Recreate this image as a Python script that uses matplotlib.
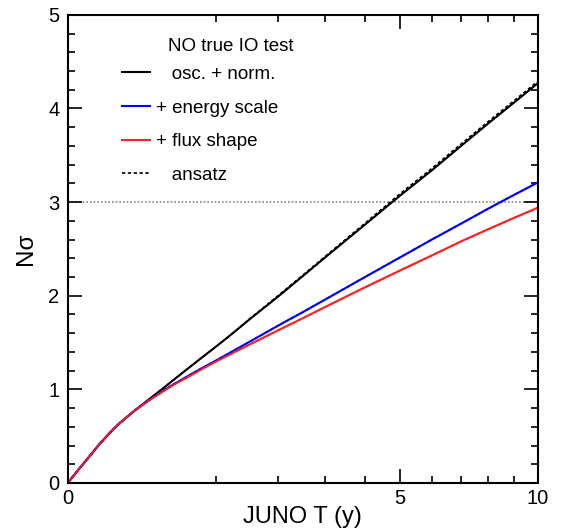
import numpy as np
import matplotlib.pyplot as plt
from matplotlib.lines import Line2D

# exposure time (years) and sensitivity curves
T = [0, 0.005, 0.01, 0.02, 0.04, 0.06, 0.075, 0.1, 0.125, 0.15, 0.2, 0.3, 0.4, 0.5,
     0.65, 0.8, 1, 1.25, 1.5, 2, 2.5, 3, 4, 5, 6, 7, 8, 9, 10]
osc_norm = [0, 0.14, 0.196, 0.276, 0.39, 0.47, 0.52, 0.59, 0.645, 0.69, 0.77, 0.895, 1.00, 1.095,
            1.22, 1.33, 1.46, 1.61, 1.75, 1.99, 2.21, 2.41, 2.76, 3.07, 3.34, 3.60, 3.84, 4.06, 4.27]
energy_scale = [0, 0.14, 0.196, 0.276, 0.39, 0.47, 0.52, 0.59, 0.645, 0.69, 0.77, 0.885, 0.975, 1.05,
                1.14, 1.22, 1.31, 1.415, 1.51, 1.68, 1.825, 1.96, 2.20, 2.41, 2.60, 2.77, 2.93, 3.075, 3.21]
flux_shape = [0, 0.14, 0.196, 0.276, 0.39, 0.47, 0.52, 0.59, 0.645, 0.69, 0.77, 0.885, 0.97, 1.045,
              1.13, 1.21, 1.30, 1.395, 1.48, 1.63, 1.76, 1.88, 2.09, 2.27, 2.43, 2.58, 2.71, 2.83, 2.94]

# ansatz approximations
ansatz_osc = [0, 0.14, 0.196, 0.276, 0.39, 0.47, 0.52, 0.59, 0.645, 0.69, 0.77, 0.895, 1.00, 1.095,
              1.22, 1.33, 1.46, 1.61, 1.755, 2.00, 2.22, 2.42, 2.775, 3.09, 3.36, 3.62, 3.86, 4.08, 4.29]
ansatz_energy = energy_scale
ansatz_flux = flux_shape

plt.rcParams['font.family'] = ['Liberation Sans', 'DejaVu Sans']

fig = plt.figure(figsize=(5.65, 5.29), dpi=100)
ax = fig.add_axes([0.120, 0.087, 0.832, 0.885])

ax.set_xscale('function', functions=(lambda x: np.sqrt(np.clip(x, 0, None)), np.square))

ax.axhline(3, color='#888888', lw=1.2, ls=(0, (1, 1.2)), zorder=1)

dash = (0, (2, 1.5))
ax.plot(T, osc_norm, color='black', lw=1.5)
ax.plot(T, energy_scale, color='#0000ff', lw=1.5)
ax.plot(T, flux_shape, color='#ff2020', lw=1.5)
ax.plot(T, ansatz_osc, color='black', lw=1.2, ls=dash)
ax.plot(T, ansatz_energy, color='#0000ff', lw=1.2, ls=dash)
ax.plot(T, ansatz_flux, color='#ff2020', lw=1.2, ls=dash)

ax.set_xlim(0, 10)
ax.set_ylim(0, 5)
ax.set_xticks([0, 5, 10])
ax.set_xticklabels(['0', '5', '10'])
ax.set_xticks([1, 2, 3, 4, 6, 7, 8, 9], minor=True)
ax.set_yticks([0, 1, 2, 3, 4, 5])
ax.set_yticks(np.arange(0, 5.01, 0.2), minor=True)

ax.tick_params(which='both', direction='in', top=True, right=True, labelsize=14.5, width=1.2)
ax.tick_params(which='major', length=10)
ax.tick_params(which='minor', length=5)
ax.tick_params(axis='y', pad=6)
ax.tick_params(axis='x', pad=4)
for s in ax.spines.values():
    s.set_linewidth(1.5)

ax.set_xlabel('JUNO T (y)', fontsize=17, labelpad=-1)
ax.set_ylabel('Nσ', fontsize=17.5, labelpad=8)

ax.text(0.213, 0.932, 'NO true IO test', transform=ax.transAxes, fontsize=13.5, va='center')

handles = [
    Line2D([], [], color='black', lw=1.5),
    Line2D([], [], color='#0000ff', lw=1.5),
    Line2D([], [], color='#ff2020', lw=1.5),
    Line2D([], [], color='black', lw=1.2, ls=dash),
]
labels = ['   osc. + norm.', '+ energy scale', '+ flux shape', '   ansatz']
ax.legend(handles, labels, loc='upper left', bbox_to_anchor=(0.079, 0.927),
          frameon=False, fontsize=13.5, handlelength=1.5, handletextpad=0.3,
          labelspacing=0.88)

fig.savefig('out.png', dpi=100)
